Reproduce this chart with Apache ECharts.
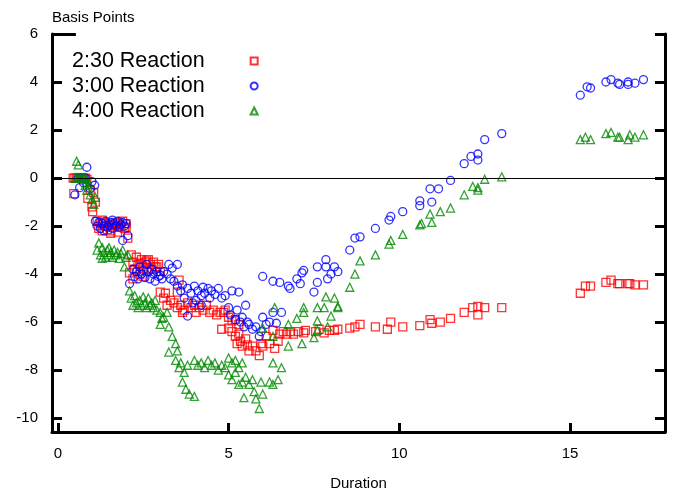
<!DOCTYPE html>
<html>
<head>
<meta charset="utf-8">
<script src="https://cdn.jsdelivr.net/npm/echarts@6/dist/echarts.min.js"></script>
<style>
html,body{margin:0;padding:0;background:#fff;}
#chart{width:678px;height:497px;}
</style>
</head>
<body>
<div id="chart"></div>
<script>
// ---- data ----
const seriesNames = ['2:30 Reaction', '3:00 Reaction', '4:00 Reaction'];
const xTicks = [0, 5, 10, 15];
const yTicks = [-10, -8, -6, -4, -2, 0, 2, 4, 6];
const xLabel = 'Duration';
const yLabel = 'Basis Points';

const reaction230 = [
[0.45,0],[0.5,0],[0.55,0],[0.6,0],[0.65,0],[0.7,0],[0.75,0],[0.8,0],[0.85,-0.05],
[0.47,-0.65],[0.88,-0.85],[1.05,-0.6],[1.1,-1.0],[1.02,-1.4],[0.95,-0.5],[1.0,-1.2],
[1.15,-1.8],[1.2,-2.1],[1.25,-1.9],[1.3,-2.2],[1.35,-1.85],[1.4,-2.0],[1.45,-2.15],[1.5,-1.9],[1.55,-2.2],[1.6,-1.95],
[1.65,-2.05],[1.7,-1.85],[1.75,-2.25],[1.8,-1.9],[1.85,-2.0],[1.9,-1.8],[1.95,-2.1],[2.0,-1.9],[2.05,-2.5],[1.3,-1.75],[1.55,-2.3],[2.0,-2.05],
[2.1,-3.95],[2.15,-3.2],[2.2,-3.5],[2.25,-3.8],[2.3,-3.3],[2.35,-3.6],[2.4,-4.0],[2.45,-3.4],[2.5,-3.7],[2.55,-3.5],[2.6,-3.9],
[2.65,-3.4],[2.7,-3.6],[2.75,-3.8],[2.8,-3.5],[2.85,-3.7],[2.9,-3.7],[2.95,-3.6],[3.0,-3.9],[2.4,-3.55],[2.6,-3.45],[2.2,-4.2],[2.5,-4.1],
[3.0,-4.75],[3.1,-5.0],[3.15,-4.8],[3.5,-4.75],[3.55,-4.25],[3.3,-5.1],[3.4,-5.2],[3.5,-5.4],[3.6,-5.3],[3.7,-5.5],[3.8,-5.2],[3.9,-5.4],
[4.0,-5.3],[4.05,-5.6],[4.15,-5.4],[4.25,-5.5],[4.35,-5.3],[4.45,-5.6],[4.55,-5.5],[4.65,-5.7],[4.75,-5.6],[4.85,-5.6],[3.65,-5.6],[3.2,-5.3],
[4.9,-5.5],[5.0,-5.8],[5.1,-5.95],[5.2,-5.9],[5.3,-6.1],
[4.8,-6.3],[5.0,-6.25],[5.1,-6.4],[5.2,-6.6],[5.25,-6.9],[5.3,-6.5],[5.35,-6.8],[5.4,-7.0],[5.5,-6.7],[5.55,-6.95],[5.6,-7.2],[5.7,-7.0],
[5.8,-7.2],[5.9,-7.4],[5.95,-6.9],[6.0,-7.0],[6.1,-6.6],[6.2,-6.9],[6.3,-6.35],[6.35,-7.1],[6.45,-6.8],[6.5,-6.5],[6.6,-6.4],[6.7,-6.5],
[6.8,-6.4],[6.9,-6.5],[7.05,-6.4],[7.2,-6.45],[7.25,-6.35],[7.55,-6.4],[7.65,-6.3],[7.8,-6.45],[7.95,-6.35],[8.1,-6.35],[8.2,-6.3],
[8.55,-6.25],[8.7,-6.2],[8.85,-6.1],[9.3,-6.2],[9.65,-6.3],[9.75,-6.0],[10.1,-6.2],[10.6,-6.15],[10.9,-5.9],[10.95,-6.05],[11.2,-6.0],
[11.5,-5.85],[11.9,-5.6],[12.15,-5.4],[12.3,-5.35],[12.3,-5.7],[12.5,-5.4],[13.0,-5.4],
[15.3,-4.8],[15.45,-4.5],[15.6,-4.5],[16.05,-4.35],[16.2,-4.25],[16.4,-4.4],[16.45,-4.4],[16.7,-4.4],[16.75,-4.4],[16.9,-4.45],[17.15,-4.45]
];

const reaction300 = [
[0.5,-0.7],[0.64,-0.4],[0.85,0.45],[1.08,-0.3],[0.6,0],[0.7,0],[0.8,0],[0.75,-0.2],[0.95,-0.45],[1.0,-0.15],
[1.1,-1.8],[1.15,-2.0],[1.2,-1.85],[1.25,-2.1],[1.3,-1.9],[1.35,-2.0],[1.4,-1.8],[1.45,-2.05],[1.5,-1.95],[1.55,-1.85],[1.6,-2.1],
[1.65,-1.9],[1.7,-2.0],[1.75,-1.8],[1.8,-2.05],[1.85,-1.95],[1.9,-1.85],[1.95,-2.0],[2.0,-1.9],[1.9,-2.6],[2.05,-2.4],[1.35,-2.2],[1.6,-1.75],
[2.1,-4.4],[2.2,-3.8],[2.25,-4.1],[2.3,-3.9],[2.35,-4.2],[2.4,-3.7],[2.45,-4.0],[2.5,-3.85],[2.55,-4.15],[2.6,-3.6],[2.65,-3.9],[2.7,-4.2],
[2.75,-3.8],[2.8,-4.0],[2.85,-4.3],[2.9,-3.9],[2.95,-4.1],[3.0,-4.05],[3.05,-4.2],[3.1,-3.9],[3.25,-3.6],[3.35,-3.75],[3.5,-3.6],[3.2,-4.0],[3.3,-4.2],[3.4,-4.3],
[3.5,-4.5],[3.6,-4.7],[3.65,-4.45],[3.7,-5.0],[3.8,-5.75],[3.8,-4.6],[3.9,-4.8],[4.0,-4.5],[4.05,-5.1],[4.1,-4.7],[4.2,-4.9],[4.25,-4.55],
[4.3,-4.8],[4.4,-4.6],[4.45,-5.0],[4.5,-4.7],[4.6,-4.85],[4.7,-4.6],[4.8,-5.0],[4.2,-5.3],[3.95,-5.2],
[4.9,-4.9],[5.0,-5.4],[5.05,-5.7],[5.1,-4.7],[5.2,-5.9],[5.25,-5.5],[5.3,-4.75],[5.35,-6.0],[5.4,-5.8],[5.45,-6.2],[5.5,-5.3],[5.55,-6.0],
[5.6,-6.1],[5.7,-6.3],[5.8,-6.2],[5.9,-6.6],[5.95,-6.4],[6.0,-5.8],[6.1,-6.1],[6.2,-6.0],[6.3,-5.6],[6.4,-6.05],[6.55,-5.6],[6.0,-4.1],[6.3,-4.3],[6.5,-4.35],
[6.75,-4.5],[6.8,-4.6],[7.0,-4.2],[7.1,-4.4],[7.15,-3.95],[7.2,-3.85],[7.5,-4.75],[7.6,-4.35],[7.6,-3.7],[7.85,-3.4],[7.85,-3.7],[7.9,-4.2],[8.0,-4.0],[8.1,-3.7],[8.2,-3.9],
[8.55,-3.0],[8.7,-2.5],[8.85,-2.45],[9.3,-2.1],[9.7,-1.75],[9.75,-1.6],[10.1,-1.4],[10.6,-0.95],[10.6,-1.15],[10.95,-1.0],[10.9,-0.45],[11.15,-0.45],
[11.5,-0.1],[11.9,0.6],[12.1,0.9],[12.3,1.0],[12.3,0.75],[12.5,1.6],[13.0,1.85],
[15.3,3.45],[15.5,3.8],[15.6,3.75],[16.05,4.0],[16.2,4.1],[16.4,3.95],[16.45,3.9],[16.7,4.0],[16.7,3.9],[16.9,3.95],[17.15,4.1]
];

const reaction400 = [
[0.55,0.7],[0.6,0.55],[0.5,0],[0.55,0],[0.6,0],[0.65,0],[0.7,0],[0.75,0],[0.8,0],[0.85,-0.05],[0.8,-0.3],[0.85,-0.5],[0.9,-0.4],[0.95,-0.7],[1.0,-0.9],[1.05,-1.1],[1.1,-0.8],[0.9,-0.2],
[1.15,-3.0],[1.2,-2.7],[1.25,-3.2],[1.3,-2.9],[1.35,-3.1],[1.4,-3.3],[1.45,-3.0],[1.5,-3.2],[1.55,-3.1],[1.6,-3.3],[1.65,-3.0],[1.7,-3.2],
[1.75,-3.1],[1.8,-3.35],[1.85,-3.15],[1.9,-3.0],[1.95,-3.7],[2.0,-3.3],[2.05,-3.2],[1.3,-3.35],[1.5,-2.9],
[2.1,-4.7],[2.15,-5.0],[2.2,-5.3],[2.25,-4.9],[2.3,-5.2],[2.35,-5.4],[2.4,-5.1],[2.45,-5.3],[2.5,-4.95],[2.55,-5.2],[2.6,-5.4],[2.65,-5.0],
[2.7,-5.3],[2.75,-5.2],[2.8,-5.4],[2.85,-5.1],[2.9,-5.5],[3.0,-5.6],[3.05,-5.85],[3.0,-6.1],[3.2,-5.6],[3.1,-5.8],[3.25,-6.2],
[3.35,-6.6],[3.45,-6.9],[3.5,-7.2],[3.25,-7.25],[3.45,-7.6],[3.55,-7.9],[3.6,-7.7],[3.7,-8.1],[3.8,-7.8],[3.65,-8.5],[3.75,-8.8],[3.85,-9.0],[4.0,-9.1],
[4.0,-7.6],[4.1,-7.8],[4.2,-7.7],[4.3,-7.9],[4.4,-7.6],[4.5,-7.8],[4.6,-7.7],[4.7,-8.0],[4.8,-7.8],[4.9,-7.9],[5.0,-7.5],[5.1,-7.7],[5.2,-7.6],
[5.3,-7.9],[5.4,-7.7],[5.0,-8.2],[5.1,-8.4],[5.2,-8.1],[5.3,-8.6],[5.4,-8.5],[5.45,-9.15],[5.5,-8.3],[5.6,-8.6],[5.7,-8.4],[5.75,-8.9],
[5.8,-9.2],[5.9,-9.6],[5.95,-8.5],[6.0,-9.0],[6.2,-8.5],[6.3,-8.6],[6.45,-8.4],
[6.0,-6.25],[6.3,-7.7],[6.55,-7.9],[6.35,-5.4],[6.3,-6.6],[6.75,-6.1],[6.75,-7.0],[7.0,-5.85],[7.15,-6.9],[7.2,-5.4],[7.2,-5.6],[7.5,-6.65],
[7.6,-5.4],[7.8,-5.4],[7.85,-4.95],[8.1,-5.0],[8.2,-5.4],[7.6,-5.95],[7.6,-6.35],[7.9,-6.2],[8.0,-5.75],
[8.2,-5.35],[8.55,-4.55],[8.7,-4.0],[8.85,-3.45],[9.3,-3.2],[9.7,-2.75],[9.75,-2.6],[10.1,-2.35],[10.6,-1.95],[10.65,-1.9],[10.95,-1.85],
[10.9,-1.5],[11.2,-1.4],[11.5,-1.25],[11.9,-0.7],[12.15,-0.35],[12.3,-0.5],[12.3,-0.4],[12.5,-0.05],[13.0,0.05],
[15.3,1.6],[15.45,1.7],[15.6,1.6],[16.05,1.85],[16.2,1.9],[16.4,1.7],[16.45,1.7],[16.7,1.6],[16.75,1.8],[16.9,1.7],[17.15,1.8]
];

// ---- chart ----
const FONT = '"Liberation Sans", Arial, sans-serif';
const chart = echarts.init(document.getElementById('chart'), null, {renderer: 'canvas'});
const axisLine = {show: true, onZero: false, lineStyle: {color: '#000', width: 3}};
const tickStyle = {color: '#000', width: 3};
const X_MIN = -0.17, X_MAX = 17.78, Y_MIN = -10.58, Y_MAX = 6;
function mkSeries(name, data, symbol, color) {
  return {
    name: name, type: 'scatter', data: data, symbol: symbol, symbolSize: 8,
    itemStyle: {color: 'rgba(255,255,255,0)', borderColor: color, borderWidth: 1.3},
    emphasis: {disabled: true}, animation: false
  };
}
const s1 = mkSeries(seriesNames[0], reaction230, 'rect', '#ff0000');
const s2 = mkSeries(seriesNames[1], reaction300, 'circle', '#0000ff');
const s3 = mkSeries(seriesNames[2], reaction400, 'triangle', '#008a00');
s1.markLine = {
  silent: true, symbol: ['none', 'none'], label: {show: false}, animation: false,
  lineStyle: {color: '#000', width: 1.2, type: 'solid'},
  data: [
    {yAxis: 0},
    [{coord: [X_MIN, Y_MAX], lineStyle: {width: 3}}, {coord: [0.53, Y_MAX]}]
  ]
};
chart.setOption({
  animation: false,
  backgroundColor: '#fff',
  title: {text: yLabel, left: 47, top: 5, textStyle: {fontSize: 15, fontWeight: 'normal', color: '#000', fontFamily: FONT}},
  grid: {left: 52, right: 13, top: 34, bottom: 65},
  legend: {
    orient: 'vertical', left: 72, top: 50, padding: 0, itemGap: 3,
    align: 'right', itemWidth: 7, itemHeight: 7,
    data: seriesNames,
    textStyle: {fontSize: 21.5, lineHeight: 20, padding: [0, 41, 0, 0], color: '#000', fontFamily: FONT}
  },
  xAxis: {
    type: 'value', min: X_MIN, max: X_MAX,
    axisLine: axisLine,
    axisTick: {show: true, inside: true, length: 9, lineStyle: tickStyle, customValues: xTicks},
    axisLabel: {customValues: xTicks, margin: 14, fontSize: 15, color: '#000', fontFamily: FONT},
    splitLine: {show: false},
    name: xLabel, nameLocation: 'middle', nameGap: 44,
    nameTextStyle: {fontSize: 15, color: '#000', fontFamily: FONT}
  },
  yAxis: [{
    type: 'value', min: Y_MIN, max: Y_MAX, position: 'left',
    axisLine: axisLine,
    axisTick: {show: true, inside: true, length: 10, lineStyle: tickStyle, customValues: yTicks},
    axisLabel: {customValues: yTicks, margin: 14, fontSize: 15, color: '#000', fontFamily: FONT},
    splitLine: {show: false}
  }, {
    type: 'value', min: Y_MIN, max: Y_MAX, position: 'right',
    axisLine: axisLine,
    axisTick: {show: true, inside: true, length: 10, lineStyle: tickStyle, customValues: yTicks},
    axisLabel: {show: false},
    splitLine: {show: false}
  }],
  series: [s1, s2, s3]
});
</script>
</body>
</html>
